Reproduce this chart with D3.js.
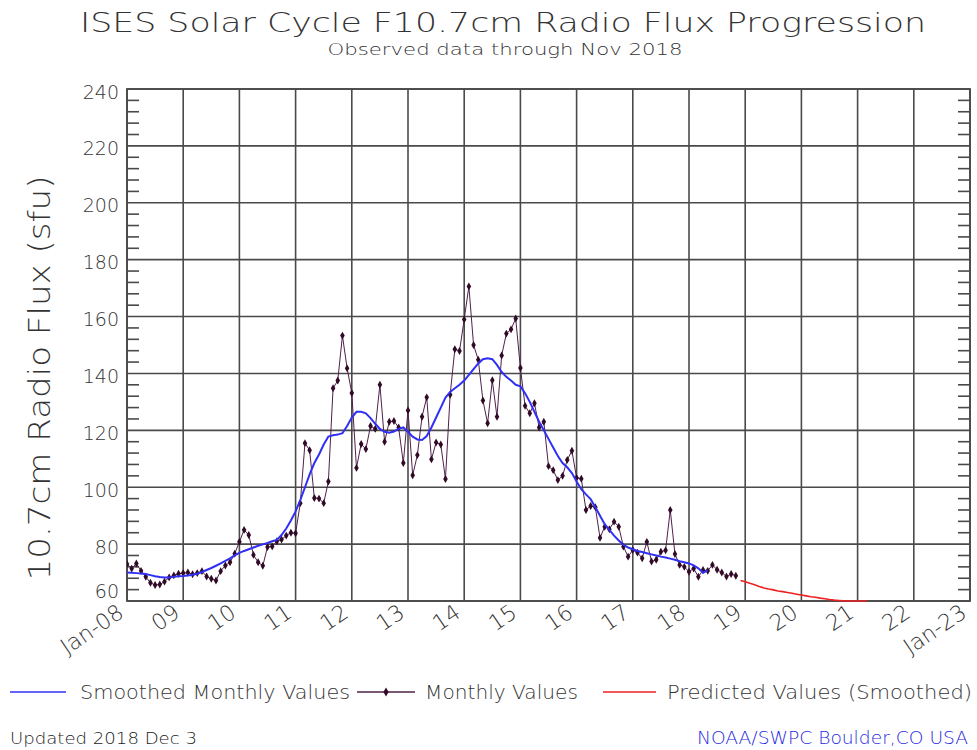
<!DOCTYPE html>
<html>
<head>
<meta charset="utf-8">
<script src="https://cdn.jsdelivr.net/npm/d3@7"></script>
<style>
  body { margin: 0; background: #fff; }
  text { font-family: "DejaVu Sans", sans-serif; font-weight: 200; fill: #333; }
</style>
</head>
<body>
<div id="chart"></div>
<script>
// monthly observed F10.7, Jan 2008 .. Nov 2018
const monthly = [
  73.0, 71.4, 73.2, 70.6, 68.5, 66.4, 65.6, 65.8, 66.8, 68.3, 69.0, 69.6, // 2008
  69.8, 70.0, 69.4, 69.8, 70.5, 68.6, 67.8, 67.2, 70.5, 72.5, 73.6, 76.6, // 2009
  80.8, 85.0, 83.2, 76.2, 73.6, 72.4, 79.0, 79.2, 81.0, 81.6, 83.0, 84.0, // 2010
  83.8, 94.4, 115.5, 113.0, 96.2, 96.0, 94.4, 102.0, 134.8, 137.5, 153.3, 141.8, // 2011
  133.1, 106.8, 115.2, 113.4, 121.5, 120.5, 136.0, 116.0, 123.0, 123.3, 121.0, 108.5, // 2012
  127.0, 104.2, 111.3, 124.8, 131.6, 109.8, 115.7, 115.0, 102.9, 132.5, 148.5, 147.9, // 2013
  159.0, 170.6, 150.0, 144.8, 130.5, 122.5, 137.6, 124.8, 146.3, 154.0, 155.5, 159.3, // 2014
  141.9, 128.6, 126.0, 129.5, 121.0, 123.0, 107.4, 106.0, 102.5, 104.0, 109.6, 112.8, // 2015
  103.3, 103.0, 92.0, 93.4, 93.0, 82.2, 86.1, 85.2, 87.9, 86.1, 79.1, 75.6, // 2016
  77.9, 77.0, 75.0, 80.8, 73.9, 74.5, 77.3, 77.8, 92.0, 76.5, 72.7, 72.0, // 2017
  70.3, 71.4, 68.5, 70.9, 70.6, 72.7, 71.0, 70.0, 68.6, 69.5, 68.9 // 2018
]

// 13-month smoothed, Jan 2008 .. May 2018
const smoothed = [
  70.0, 69.9, 69.8, 69.7, 69.5, 69.1, 68.7, 68.4, 68.3, 68.3, 68.5, 68.7,
  68.8, 69.0, 69.2, 69.6, 70.2, 70.9, 71.6, 72.4, 73.2, 74.1, 75.0, 76.0,
  76.9, 77.6, 78.2, 78.8, 79.4, 79.9, 80.4, 81.0, 81.5, 83.2, 85.5, 88.3,
  91.5, 95.5, 100.0, 104.5, 108.5, 111.5, 115.0, 117.8, 118.3, 118.5, 119.0, 121.5,
  124.5, 126.5, 126.5, 126.0, 124.3, 122.3, 120.5, 119.5, 119.2, 119.6, 120.5, 121.0,
  119.5, 117.8, 116.8, 116.6, 118.0, 121.0, 124.5, 128.0, 131.5, 133.5, 134.8, 136.0,
  137.5, 139.5, 141.5, 143.5, 145.0, 145.3, 145.0, 143.0, 140.5, 138.8, 137.5, 136.0,
  135.5, 133.0, 130.0, 126.5, 123.0, 120.0, 117.0, 114.0, 111.0, 108.5, 107.0, 105.0,
  102.0, 99.3, 97.5, 95.8, 93.0, 90.0, 87.0, 85.0, 83.0, 81.3, 79.8, 78.8,
  78.2, 77.6, 77.2, 76.8, 76.4, 76.0, 75.6, 75.3, 74.9, 74.5, 74.0, 73.6,
  73.2, 72.5, 71.5, 69.9, 70.8
]

// predicted smoothed, from Dec 2018
const predictedStart = 131
const predicted = [
  67.2, 66.8, 66.2, 65.7, 65.1, 64.6, 64.2, 63.9, 63.5, 63.3, 63.0, 62.7,
  62.4, 62.1, 61.8, 61.5, 61.3, 61.0, 60.8, 60.5, 60.3, 60.2, 60.1, 60.0,
  60.0, 60.0, 60.0, 60.0
]

const yearTicks = d3.range(0, 181, 12)
const yearLabels = ['Jan-08', '09', '10', '11', '12', '13', '14', '15', '16',
  '17', '18', '19', '20', '21', '22', 'Jan-23']
const yTicks = d3.range(60, 241, 20)

const width = 977
const height = 750
const pLeft = 127, pRight = 970, pTop = 89, pBottom = 601

const svg = d3.select('#chart')
  .append('svg')
  .attr('width', width)
  .attr('height', height)

svg.append('rect').attr('width', width).attr('height', height).attr('fill', '#fff')

const x = d3.scaleLinear().domain([0, 180]).range([pLeft, pRight])
const y = d3.scaleLinear().domain([60, 240]).range([pBottom, pTop])

svg.append('defs').append('clipPath').attr('id', 'plot')
  .append('rect')
  .attr('x', pLeft).attr('y', pTop)
  .attr('width', pRight - pLeft).attr('height', pBottom - pTop + 1)

// grid
const grid = svg.append('g').attr('stroke', '#4a4a4a').attr('stroke-width', 1.6)
grid.selectAll('.vx').data(yearTicks).join('line')
  .attr('x1', d => x(d)).attr('x2', d => x(d))
  .attr('y1', pTop).attr('y2', pBottom)
grid.selectAll('.hy').data(yTicks).join('line')
  .attr('x1', pLeft).attr('x2', pRight)
  .attr('y1', d => y(d)).attr('y2', d => y(d))

// minor ticks, left and right sides pointing in
const minor = d3.range(60, 241, 4).filter(d => d % 20 !== 0)
grid.selectAll('.ml').data(minor).join('line')
  .attr('x1', pLeft).attr('x2', pLeft + 12)
  .attr('y1', d => y(d)).attr('y2', d => y(d))
grid.selectAll('.mr').data(minor).join('line')
  .attr('x1', pRight - 12).attr('x2', pRight)
  .attr('y1', d => y(d)).attr('y2', d => y(d))

svg.append('rect')
  .attr('x', pLeft).attr('y', pTop)
  .attr('width', pRight - pLeft).attr('height', pBottom - pTop)
  .attr('fill', 'none').attr('stroke', '#4a4a4a').attr('stroke-width', 1.8)

// y labels
svg.append('g').selectAll('text').data(yTicks).join('text')
  .attr('x', pLeft - 8)
  .attr('y', d => y(d) + (d === 60 ? -9 : 4))
  .attr('text-anchor', 'end')
  .attr('dominant-baseline', 'middle')
  .attr('font-size', 19)
  .text(d => d)

// x labels
svg.append('g').selectAll('text').data(yearTicks).join('text')
  .attr('transform', d => `translate(${x(d) - 2},${pBottom + 15}) rotate(-34)`)
  .attr('text-anchor', 'end')
  .attr('font-size', 22)
  .text((d, i) => yearLabels[i])

const line = d3.line().x(d => x(d[0])).y(d => y(d[1]))
const plot = svg.append('g').attr('clip-path', 'url(#plot)')

const mPts = monthly.map((v, i) => [i, v])
plot.append('path')
  .attr('d', line(mPts))
  .attr('fill', 'none').attr('stroke', '#50204a').attr('stroke-width', 1)
plot.selectAll('.dot').data(mPts).join('path')
  .attr('transform', d => `translate(${x(d[0])},${y(d[1])})`)
  .attr('d', d3.symbol(d3.symbolDiamond, 18))
  .attr('fill', '#300a26')

plot.append('path')
  .attr('d', line(smoothed.map((v, i) => [i, v])))
  .attr('fill', 'none').attr('stroke', '#3030f5').attr('stroke-width', 2)

plot.append('path')
  .attr('d', line(predicted.map((v, i) => [predictedStart + i, v])))
  .attr('fill', 'none').attr('stroke', '#ee2020').attr('stroke-width', 1.6)

// titles
svg.append('text')
  .attr('x', 503).attr('y', 32)
  .attr('text-anchor', 'middle')
  .attr('font-size', 27)
  .attr('textLength', 846).attr('lengthAdjust', 'spacingAndGlyphs')
  .text('ISES Solar Cycle F10.7cm Radio Flux Progression')
svg.append('text')
  .attr('x', 505).attr('y', 55)
  .attr('text-anchor', 'middle')
  .attr('font-size', 16)
  .attr('textLength', 355).attr('lengthAdjust', 'spacingAndGlyphs')
  .text('Observed data through Nov 2018')

svg.append('text')
  .attr('transform', 'translate(50,378) rotate(-90)')
  .attr('text-anchor', 'middle')
  .attr('font-size', 30)
  .attr('textLength', 405).attr('lengthAdjust', 'spacingAndGlyphs')
  .text('10.7cm Radio Flux (sfu)')

// legend
const leg = svg.append('g')
leg.append('line').attr('x1', 10).attr('x2', 66).attr('y1', 692).attr('y2', 692)
  .attr('stroke', '#3030f5').attr('stroke-width', 1.6)
leg.append('text').attr('x', 80).attr('y', 699).attr('font-size', 19)
  .attr('textLength', 270).attr('lengthAdjust', 'spacingAndGlyphs')
  .text('Smoothed Monthly Values')
leg.append('line').attr('x1', 357).attr('x2', 415).attr('y1', 692).attr('y2', 692)
  .attr('stroke', '#50204a').attr('stroke-width', 1.4)
leg.append('path').attr('transform', 'translate(386,692)')
  .attr('d', d3.symbol(d3.symbolDiamond, 24)).attr('fill', '#300a26')
leg.append('text').attr('x', 425).attr('y', 699).attr('font-size', 19)
  .attr('textLength', 153).attr('lengthAdjust', 'spacingAndGlyphs')
  .text('Monthly Values')
leg.append('line').attr('x1', 603).attr('x2', 656).attr('y1', 692).attr('y2', 692)
  .attr('stroke', '#ee2020').attr('stroke-width', 1.6)
leg.append('text').attr('x', 667).attr('y', 699).attr('font-size', 19)
  .attr('textLength', 305).attr('lengthAdjust', 'spacingAndGlyphs')
  .text('Predicted Values (Smoothed)')

svg.append('text').attr('x', 10).attr('y', 744).attr('font-size', 15)
  .attr('textLength', 187).attr('lengthAdjust', 'spacingAndGlyphs')
  .style('fill', '#222')
  .text('Updated 2018 Dec  3')
svg.append('text').attr('x', 697).attr('y', 744).attr('font-size', 18)
  .attr('textLength', 271).attr('lengthAdjust', 'spacingAndGlyphs')
  .style('fill', '#2a2ae0')
  .text('NOAA/SWPC Boulder,CO USA')
</script>
</body>
</html>
